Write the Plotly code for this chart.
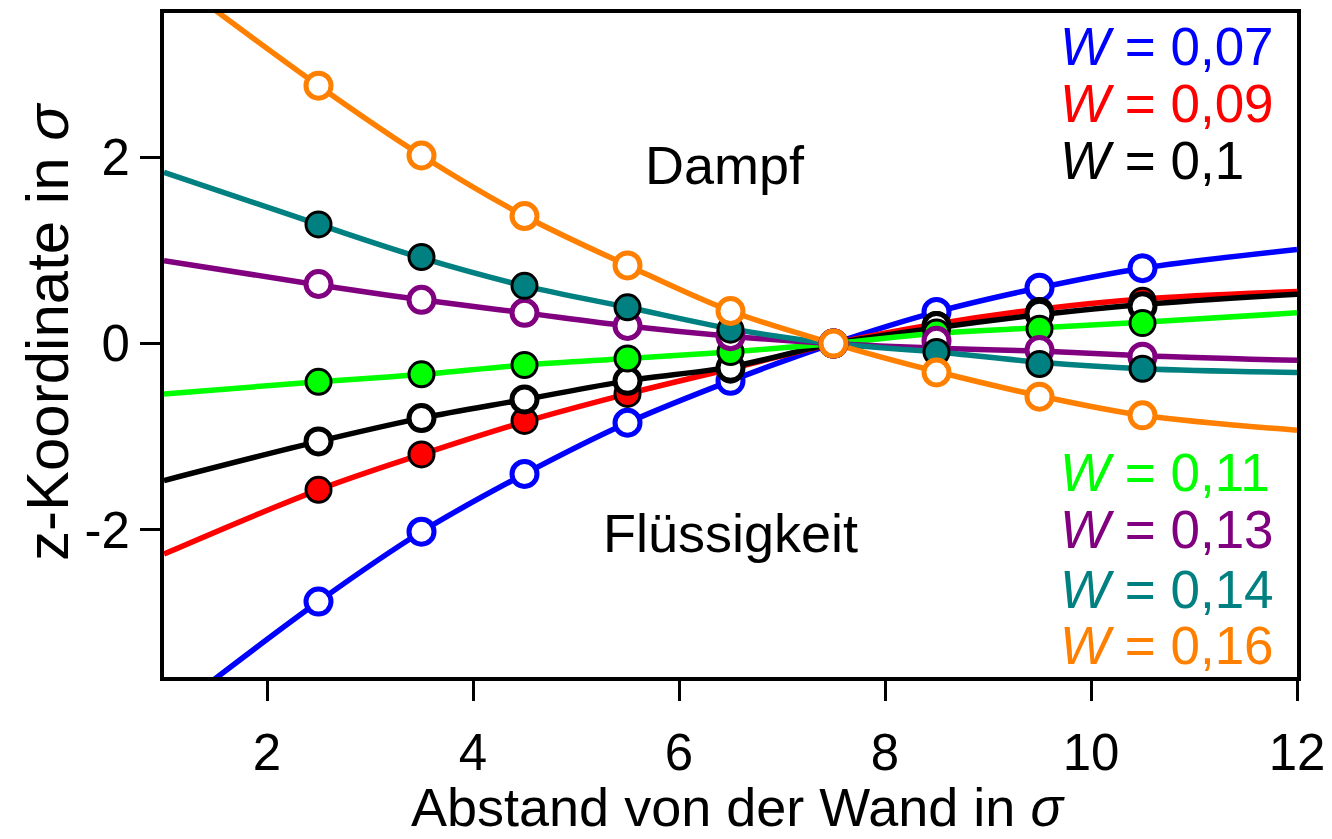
import plotly.graph_objects as go

# Distance from the wall (in sigma) at which the interface profiles were sampled
x_pts = [2.5, 3.5, 4.5, 5.5, 6.5, 7.5, 8.5, 9.5, 10.5]
# Grid of the fitted curves (extended to the axis limits)
x_fit = [1.0, 2.5, 3.5, 4.5, 5.5, 6.5, 7.5, 8.5, 9.5, 10.5, 12.0]

w_labels = ["0,07", "0,09", "0,1", "0,11", "0,13", "0,14", "0,16"]
colors = ["#0000FF", "#FF0000", "#000000", "#00FF00", "#800080", "#008080", "#FF8000"]
filled = [False, True, False, True, False, True, False]

# z-coordinate of the interface (sigma), simulation points
z_w007 = [-2.77, -2.02, -1.40, -0.85, -0.40, 0.0, 0.34, 0.60, 0.81]
z_w009 = [-1.57, -1.19, -0.83, -0.54, -0.28, 0.0, 0.20, 0.35, 0.46]
z_w010 = [-1.05, -0.80, -0.60, -0.40, -0.26, 0.0, 0.19, 0.32, 0.40]
z_w011 = [-0.41, -0.33, -0.23, -0.16, -0.09, 0.0, 0.12, 0.16, 0.22]
z_w013 = [0.64, 0.47, 0.33, 0.19, 0.08, 0.0, 0.03, -0.07, -0.14]
z_w014 = [1.28, 0.93, 0.62, 0.39, 0.15, 0.0, -0.09, -0.22, -0.27]
z_w016 = [2.77, 2.02, 1.37, 0.84, 0.35, 0.0, -0.31, -0.57, -0.77]

# Fitted interface profiles
fit_w007 = [-4.02, -2.77, -2.02, -1.40, -0.85, -0.40, 0.0, 0.34, 0.60, 0.81, 1.01]
fit_w009 = [-2.26, -1.57, -1.19, -0.84, -0.54, -0.27, 0.0, 0.21, 0.37, 0.48, 0.56]
fit_w010 = [-1.47, -1.05, -0.80, -0.60, -0.40, -0.25, 0.0, 0.17, 0.31, 0.42, 0.53]
fit_w011 = [-0.54, -0.41, -0.33, -0.23, -0.16, -0.09, 0.0, 0.11, 0.17, 0.23, 0.33]
fit_w013 = [0.89, 0.63, 0.47, 0.33, 0.19, 0.08, 0.0, -0.05, -0.08, -0.13, -0.18]
fit_w014 = [1.84, 1.28, 0.92, 0.62, 0.39, 0.16, 0.0, -0.09, -0.20, -0.27, -0.31]
fit_w016 = [3.99, 2.77, 2.02, 1.37, 0.84, 0.35, 0.0, -0.30, -0.56, -0.77, -0.93]

points = [z_w007, z_w009, z_w010, z_w011, z_w013, z_w014, z_w016]
fits = [fit_w007, fit_w009, fit_w010, fit_w011, fit_w013, fit_w014, fit_w016]

x_ticks = [2, 4, 6, 8, 10, 12]
y_ticks = [-2, 0, 2]

FONT = "Liberation Sans, Arial, sans-serif"

fig = go.Figure()

# curves first, so every marker sits on top of all lines
for fit, col in zip(fits, colors):
    fig.add_trace(go.Scatter(
        x=x_fit, y=fit, mode="lines",
        line=dict(color=col, width=5.5, shape="spline", smoothing=1.0),
        hoverinfo="skip", showlegend=False,
    ))

for z, col, fill, lab in zip(points, colors, filled, w_labels):
    if fill:
        marker = dict(symbol="circle", size=25, color=col,
                      line=dict(color="black", width=3))
    else:
        marker = dict(symbol="circle", size=25, color="white",
                      line=dict(color=col, width=5))
    fig.add_trace(go.Scatter(
        x=x_pts, y=z, mode="markers", marker=marker,
        name="W = " + lab, showlegend=False, cliponaxis=False,
    ))

# W labels: upper group top-right, lower group bottom-right
label_y = [3.19, 2.58, 1.97, -1.38, -2.0, -2.64, -3.24]
for lab, col, yy in zip(w_labels, colors, label_y):
    fig.add_annotation(
        x=9.68, y=yy, xref="x", yref="y", xanchor="left", yanchor="middle",
        text="<i>W</i> = " + lab, showarrow=False,
        font=dict(family=FONT, size=53, color=col),
    )

fig.add_annotation(x=6.45, y=1.92, xref="x", yref="y", text="Dampf",
                   showarrow=False, font=dict(family=FONT, size=54, color="black"))
fig.add_annotation(x=6.5, y=-2.03, xref="x", yref="y", text="Flüssigkeit",
                   showarrow=False, font=dict(family=FONT, size=54, color="black"))

# axis titles
fig.add_annotation(x=0.507, y=-0.196, xref="paper", yref="paper",
                   xanchor="center", yanchor="middle",
                   text="Abstand von der Wand in <i>σ</i>", showarrow=False,
                   font=dict(family=FONT, size=54, color="black"))
fig.add_annotation(x=-0.103, y=0.52, xref="paper", yref="paper",
                   xanchor="center", yanchor="middle", textangle=-90,
                   text="z-Koordinate in <i>σ</i>", showarrow=False,
                   font=dict(family=FONT, size=60, color="black"))

axis_common = dict(
    showgrid=False, zeroline=False, showline=True, linecolor="black",
    linewidth=4, mirror=True, ticks="outside", ticklen=20, tickwidth=3,
    tickcolor="black", tickfont=dict(family=FONT, size=51, color="black"),
)

fig.update_xaxes(range=[1, 12], tickvals=x_ticks,
                 ticktext=[str(t) for t in x_ticks],
                 ticklabelstandoff=8, **axis_common)
fig.update_yaxes(range=[-3.58, 3.55], tickvals=y_ticks,
                 ticktext=[str(t) for t in y_ticks],
                 ticklabelstandoff=0, **axis_common)

fig.update_layout(
    width=1332, height=839,
    margin=dict(l=164, r=35, t=13, b=162, autoexpand=False),
    plot_bgcolor="white", paper_bgcolor="white",
    showlegend=False,
)

fig.write_html("out.html")
